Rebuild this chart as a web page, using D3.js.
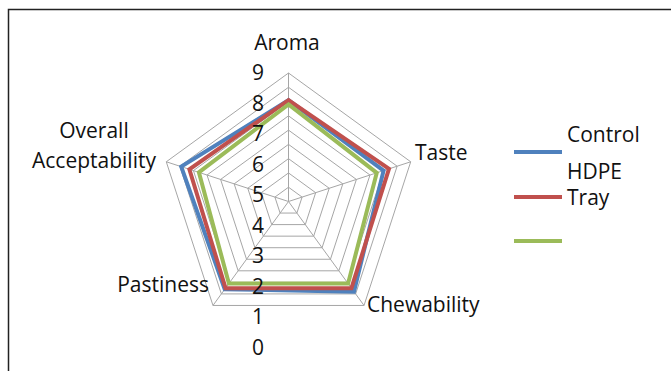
<!DOCTYPE html>
<html>
<head>
<meta charset="utf-8">
<script src="https://cdn.jsdelivr.net/npm/d3@7"></script>
<style>
  html, body { margin: 0; padding: 0; background: #fff; }
  svg { display: block; }
  text { font-family: "Open Sans", Lato, sans-serif; fill: #111; }
</style>
</head>
<body>
<svg id="chart" width="671" height="371"></svg>
<script>
// Sensory attributes around the radar
const categories = ["Aroma", "Taste", "Chewability", "Pastiness", "Overall Acceptability"];
// Series scores (0–9 hedonic scale), one per attribute
const controlHdpe = [7.1, 7.0, 7.8, 7.6, 7.9];
const tray        = [7.1, 7.4, 7.5, 7.5, 7.3];
const unnamed     = [6.8, 6.5, 7.1, 7.1, 6.6];
const seriesNames = [["Control", "HDPE"], ["Tray"], [""]];
const tickLabels  = [0, 1, 2, 3, 4, 5, 6, 7, 8, 9];

const series = [
  { values: controlHdpe, color: "#4F81BD", name: seriesNames[0] },
  { values: tray,        color: "#C0504D", name: seriesNames[1] },
  { values: unnamed,     color: "#9BBB59", name: seriesNames[2] }
];

const svg = d3.select("#chart");
const cx = 288.5, cy = 201.5, R = 128.5;
const FS = "21px";

// chart frame
svg.append("rect")
  .attr("x", 8.5).attr("y", 9.5).attr("width", 700).attr("height", 400)
  .attr("fill", "none").attr("stroke", "#222").attr("stroke-width", 1.5);

const r = d3.scaleLinear().domain([0, 9]).range([0, R]);
const angle = d3.scalePoint().domain(categories).range([0, 2 * Math.PI * 4 / 5]);
const pt = (cat, v) => {
  const a = angle(cat);
  return [cx + r(v) * Math.sin(a), cy - r(v) * Math.cos(a)];
};

const g = svg.append("g");

// concentric pentagon grid
tickLabels.slice(1).forEach(t => {
  g.append("polygon")
    .attr("points", categories.map(c => pt(c, t).join(",")).join(" "))
    .attr("fill", "none").attr("stroke", "#a6a6a6").attr("stroke-width", 1);
});
// spokes
categories.forEach(c => {
  const p = pt(c, 9);
  g.append("line")
    .attr("x1", cx).attr("y1", cy).attr("x2", p[0]).attr("y2", p[1])
    .attr("stroke", "#a6a6a6").attr("stroke-width", 1);
});

// series outlines
const line = d3.line().curve(d3.curveLinearClosed);
series.forEach(s => {
  g.append("path")
    .attr("d", line(categories.map((c, i) => pt(c, s.values[i]))))
    .attr("fill", "none").attr("stroke", s.color)
    .attr("stroke-width", 4).attr("stroke-linejoin", "miter");
});

// value axis labels, stacked down the vertical spoke
const labelY = d3.scaleLinear().domain([0, 9]).range([347, 72]);
g.selectAll(".tick").data(tickLabels).join("text")
  .attr("x", 258).attr("y", d => labelY(d))
  .attr("text-anchor", "middle").attr("dominant-baseline", "central")
  .style("font-size", FS).text(d => d);

// category labels
const catLabels = [
  { lines: ["Aroma"], x: 287, y: 42, anchor: "middle" },
  { lines: ["Taste"], x: 415, y: 152, anchor: "start" },
  { lines: ["Chewability"], x: 367, y: 304, anchor: "start" },
  { lines: ["Pastiness"], x: 209, y: 284, anchor: "end" },
  { lines: ["Overall", "Acceptability"], x: 94, y: 130, anchor: "middle" }
];
catLabels.forEach(l => {
  l.lines.forEach((txt, j) => {
    svg.append("text")
      .attr("x", l.x).attr("y", l.y + j * 30)
      .attr("text-anchor", l.anchor).attr("dominant-baseline", "central")
      .style("font-size", FS).text(txt);
  });
});

// legend
const legendY = [152, 197, 241];
series.forEach((s, i) => {
  svg.append("line")
    .attr("x1", 514).attr("x2", 562).attr("y1", legendY[i]).attr("y2", legendY[i])
    .attr("stroke", s.color).attr("stroke-width", 4);
  const n = s.name.length;
  s.name.forEach((txt, j) => {
    svg.append("text")
      .attr("x", 567).attr("y", legendY[i] + (j - (n - 1) / 2) * 37)
      .attr("dominant-baseline", "central")
      .style("font-size", FS).text(txt);
  });
});
</script>
</body>
</html>
